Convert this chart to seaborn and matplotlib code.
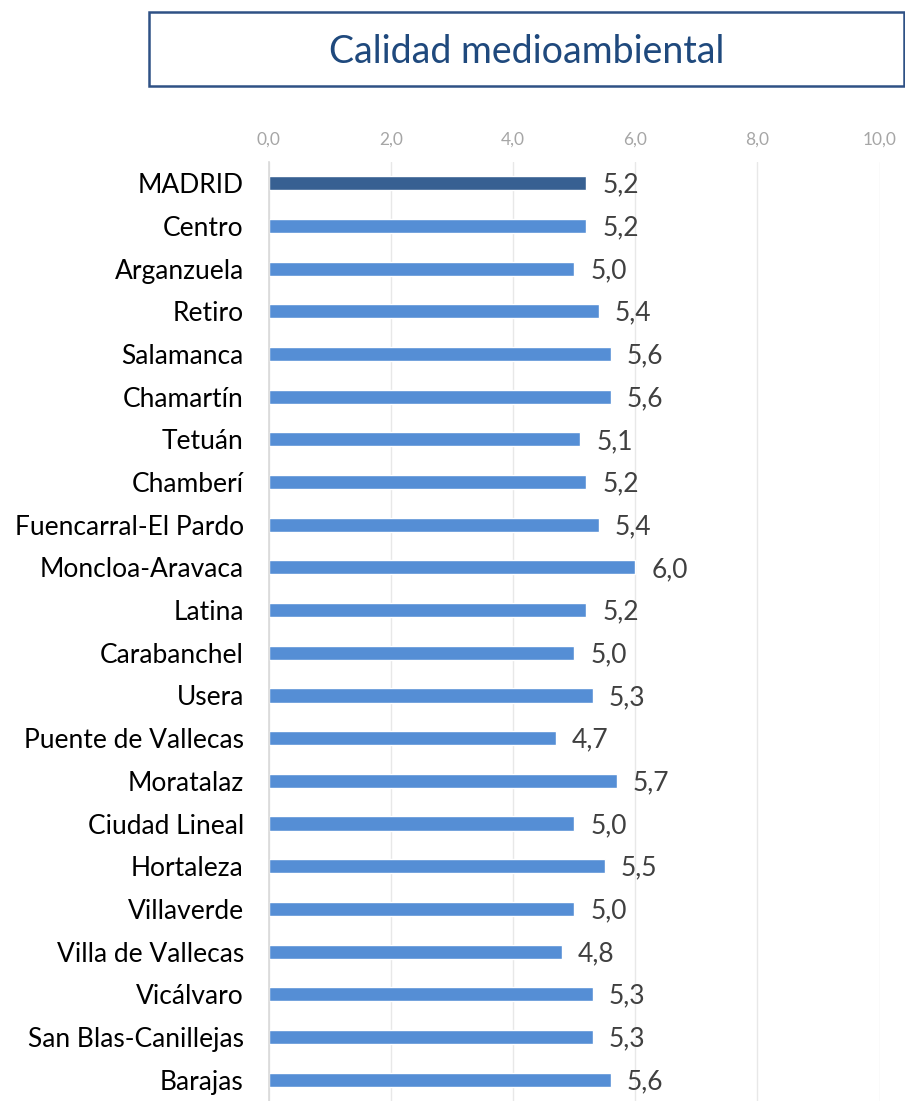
import matplotlib
matplotlib.use("Agg")
import matplotlib.pyplot as plt
import seaborn as sns
import pandas as pd
from matplotlib.patches import Rectangle

districts = ["MADRID", "Centro", "Arganzuela", "Retiro", "Salamanca", "Chamartín", "Tetuán",
             "Chamberí", "Fuencarral-El Pardo", "Moncloa-Aravaca", "Latina", "Carabanchel",
             "Usera", "Puente de Vallecas", "Moratalaz", "Ciudad Lineal", "Hortaleza",
             "Villaverde", "Villa de Vallecas", "Vicálvaro", "San Blas-Canillejas", "Barajas"]
values = [5.2, 5.2, 5.0, 5.4, 5.6, 5.6, 5.1, 5.2, 5.4, 6.0, 5.2, 5.0, 5.3, 4.7, 5.7, 5.0,
          5.5, 5.0, 4.8, 5.3, 5.3, 5.6]
groups = ["city"] + ["district"] * (len(districts) - 1)
xticks = [0, 2, 4, 6, 8, 10]

df = pd.DataFrame({"district": districts, "value": values, "group": groups})

sns.set_style("white")
plt.rcParams["font.family"] = ["Lato", "DejaVu Sans"]

fig = plt.figure(figsize=(9.05, 11.01), dpi=100)
ax = fig.add_axes([0.297, 0.0, 0.675, 0.853])

sns.barplot(data=df, y="district", x="value", hue="group",
            palette={"city": "#376092", "district": "#558ED5"}, saturation=1,
            dodge=False, width=0.33, legend=False, ax=ax, orient="h")

ax.set_xlim(0, 10)
ax.set_ylim(len(districts) - 0.5, -0.5)
ax.set_xticks(xticks)
ax.set_xticklabels([f"{t:.1f}".replace(".", ",") for t in xticks], color="#A6A6A6",
                   fontsize=12.5)
ax.xaxis.tick_top()
ax.tick_params(axis="x", length=0, pad=10)
ax.tick_params(axis="y", length=0, pad=18, labelsize=19, labelcolor="#000000")
ax.set_xlabel("")
ax.set_ylabel("")
ax.grid(axis="x", color="#E8E8E8", linewidth=1)
ax.set_axisbelow(True)
for s in ["top", "right", "bottom"]:
    ax.spines[s].set_visible(False)
ax.spines["left"].set_color("#D9D9D9")
ax.spines["left"].set_linewidth(1.2)

for i, v in enumerate(values):
    ax.annotate(f"{v:.1f}".replace(".", ","), xy=(v, i), xytext=(16, -2),
                textcoords="offset pixels",
                va="center", ha="left", fontsize=19, color="#404040")

# Title box
fig.patches.append(Rectangle((149 / 905, 1 - 86 / 1101), (904 - 149) / 905, (86 - 12) / 1101,
                             transform=fig.transFigure, fill=False,
                             edgecolor="#2F5185", linewidth=1.8))
fig.text(527 / 905, 1 - 52 / 1101, "Calidad medioambiental", ha="center", va="center",
         fontsize=27, color="#1F497D")

fig.savefig("out.png", dpi=100)
